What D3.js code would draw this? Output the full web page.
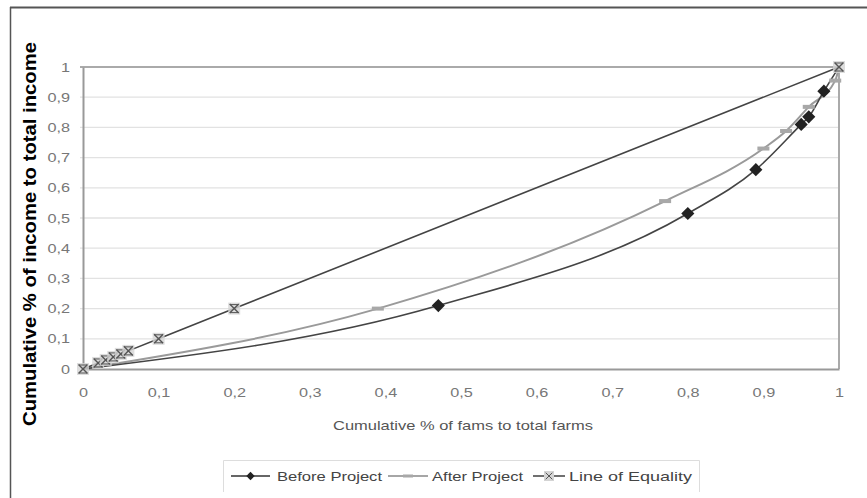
<!DOCTYPE html>
<html lang="en">
<head>
  <meta charset="UTF-8">
  <title>Lorenz curve: before and after project</title>
  <script src="https://d3js.org/d3.v7.min.js"></script>
  <style>
    body {
      margin: 0;
      background: #fff;
      font-family: "Liberation Sans", Arial, sans-serif;
    }
    svg { display: block; }
    .tick text { fill: #777; font-size: 13px; }
  </style>
</head>
<body>
  <svg id="chart" width="867" height="498"></svg>

  <script>
    // data
    const xTicks = [0, 0.1, 0.2, 0.3, 0.4, 0.5, 0.6, 0.7, 0.8, 0.9, 1];
    const yTicks = [0, 0.1, 0.2, 0.3, 0.4, 0.5, 0.6, 0.7, 0.8, 0.9, 1];

    const beforeX = [0, 0.47, 0.80, 0.89, 0.95, 0.96, 0.98, 1];
    const beforeY = [0, 0.21, 0.515, 0.66, 0.81, 0.835, 0.92, 1];

    const afterX = [0, 0.39, 0.77, 0.90, 0.93, 0.96, 0.995, 1];
    const afterY = [0, 0.20, 0.556, 0.73, 0.788, 0.868, 0.955, 1];

    const equalX = [0, 0.02, 0.03, 0.04, 0.05, 0.06, 0.1, 0.2, 1];
    const equalY = [0, 0.02, 0.03, 0.04, 0.05, 0.06, 0.1, 0.2, 1];

    const seriesNames = ["Before Project", "After Project", "Line of Equality"];

    const svg = d3.select("#chart");
    const margin = { left: 83, right: 28, top: 67, bottom: 129 };
    const W = 867, H = 498;
    const stretch = 1.25; // picture is stretched sideways

    const x = d3.scaleLinear().domain([0, 1]).range([margin.left, W - margin.right]);
    const y = d3.scaleLinear().domain([0, 1]).range([H - margin.bottom, margin.top]);
    const fmt = d => d3.format("")(d).replace(".", ",");

    // outer frame (top and left edges visible)
    svg.append("line").attr("x1", 10).attr("x2", W).attr("y1", 7.5).attr("y2", 7.5)
      .attr("stroke", "#555").attr("stroke-width", 2);
    svg.append("line").attr("x1", 10.5).attr("x2", 10.5).attr("y1", 7).attr("y2", H)
      .attr("stroke", "#555").attr("stroke-width", 1.5);

    // gridlines
    svg.append("g").selectAll("line").data(yTicks.slice(1, -1)).join("line")
      .attr("x1", x(0) - 3).attr("x2", x(1))
      .attr("y1", d => y(d)).attr("y2", d => y(d))
      .attr("stroke", "#e2e2e2").attr("stroke-width", 1.3);

    // plot frame top/right
    svg.append("path")
      .attr("d", `M${x(0) - 3},${y(1)}H${x(1)}V${y(0)}`)
      .attr("fill", "none").attr("stroke", "#aaa").attr("stroke-width", 2);

    // axes
    const xAxis = svg.append("g").attr("transform", `translate(0,${y(0)})`)
      .call(d3.axisBottom(x).tickValues(xTicks).tickFormat(fmt).tickSize(0).tickPadding(19));
    const yAxis = svg.append("g").attr("transform", `translate(${x(0)},0)`)
      .call(d3.axisLeft(y).tickValues(yTicks).tickFormat(fmt).tickSize(0));
    [xAxis, yAxis].forEach(g => {
      g.select(".domain").attr("stroke", "#999").attr("stroke-width", 2);
    });
    xAxis.selectAll(".tick text").attr("transform", `scale(${stretch},1)`);
    yAxis.selectAll(".tick text")
      .attr("x", -13 / stretch)
      .attr("transform", `scale(${stretch},1)`);

    // axis titles
    svg.append("text")
      .attr("x", 463).attr("y", 430)
      .attr("text-anchor", "middle")
      .attr("font-size", 13.5).attr("fill", "#555")
      .attr("textLength", 260).attr("lengthAdjust", "spacingAndGlyphs")
      .text("Cumulative % of fams to total farms");

    svg.append("text")
      .attr("transform", "translate(36,234) rotate(-90)")
      .attr("text-anchor", "middle")
      .attr("font-size", 18.5).attr("font-weight", "bold").attr("fill", "#000")
      .attr("textLength", 384).attr("lengthAdjust", "spacingAndGlyphs")
      .text("Cumulative % of income to total income");

    const lineGen = d3.line().x(d => x(d[0])).y(d => y(d[1])).curve(d3.curveMonotoneX);
    const straight = d3.line().x(d => x(d[0])).y(d => y(d[1]));

    const before = d3.zip(beforeX, beforeY);
    const after = d3.zip(afterX, afterY);
    const equal = d3.zip(equalX, equalY);

    // After project (grey)
    svg.append("path").datum(after).attr("d", lineGen)
      .attr("fill", "none").attr("stroke", "#9a9a9a").attr("stroke-width", 2);
    // Before project (dark)
    svg.append("path").datum(before).attr("d", lineGen)
      .attr("fill", "none").attr("stroke", "#444").attr("stroke-width", 1.6);
    // Equality
    svg.append("path").datum(equal).attr("d", straight)
      .attr("fill", "none").attr("stroke", "#444").attr("stroke-width", 1.6);

    const diamond = d3.symbol().type(d3.symbolDiamond2).size(110);
    const cross = d3.symbol().type(d3.symbolX).size(55);

    // markers: after (small grey dash)
    svg.append("g").selectAll("rect").data(after.slice(1, -1)).join("rect")
      .attr("x", d => x(d[0]) - 6).attr("y", d => y(d[1]) - 2)
      .attr("width", 12).attr("height", 4)
      .attr("fill", "#a8a8a8");

    // before markers
    svg.append("g").selectAll("path").data(before.slice(1, -1)).join("path")
      .attr("transform", d => `translate(${x(d[0])},${y(d[1])})`)
      .attr("d", diamond).attr("fill", "#222");

    // equality markers
    const eq = svg.append("g").selectAll("g").data(equal).join("g")
      .attr("transform", d => `translate(${x(d[0])},${y(d[1])})`);
    eq.append("rect").attr("x", -6).attr("y", -6).attr("width", 12).attr("height", 12)
      .attr("fill", "#d4d4d4").attr("opacity", 0.8);
    eq.append("path").attr("d", cross).attr("stroke", "#555").attr("stroke-width", 1.4);
    eq.append("line").attr("x1", -4).attr("x2", 4).attr("y1", -4).attr("y2", -4).attr("stroke", "#555");
    eq.append("line").attr("x1", -4).attr("x2", 4).attr("y1", 4).attr("y2", 4).attr("stroke", "#555");

    // legend
    const legend = svg.append("g");
    legend.append("path")
      .attr("d", "M223.5,492V460.5H699.5V492")
      .attr("fill", "none").attr("stroke", "#ddd");
    const items = [
      { x0: 231, x1: 270, tx: 277, len: 105 },
      { x0: 388, x1: 428, tx: 432, len: 91 },
      { x0: 533, x1: 565, tx: 569, len: 123 }
    ];
    seriesNames.forEach((name, i) => {
      const it = items[i];
      const cy = 476;
      legend.append("line").attr("x1", it.x0).attr("x2", it.x1).attr("y1", cy).attr("y2", cy)
        .attr("stroke", i === 1 ? "#888" : "#333").attr("stroke-width", 1.4);
      const mx = (it.x0 + it.x1) / 2;
      if (i === 0) {
        legend.append("path").attr("transform", `translate(${mx},${cy})`)
          .attr("d", d3.symbol().type(d3.symbolDiamond2).size(45)).attr("fill", "#222");
      } else if (i === 1) {
        legend.append("rect").attr("x", mx - 5).attr("y", cy - 1.5).attr("width", 10).attr("height", 3)
          .attr("fill", "#a8a8a8");
      } else {
        legend.append("rect").attr("x", mx - 5).attr("y", cy - 5).attr("width", 10).attr("height", 10)
          .attr("fill", "#d4d4d4");
        legend.append("path").attr("transform", `translate(${mx},${cy})`)
          .attr("d", d3.symbol().type(d3.symbolX).size(30)).attr("stroke", "#555");
      }
      legend.append("text").attr("x", it.tx).attr("y", cy + 4.5)
        .attr("font-size", 13).attr("fill", "#444")
        .attr("textLength", it.len).attr("lengthAdjust", "spacingAndGlyphs")
        .text(name);
    });
  </script>
</body>
</html>
